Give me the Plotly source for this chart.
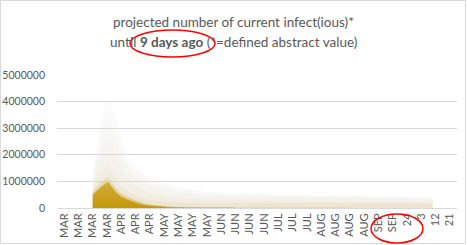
import plotly.graph_objects as go

# ---- data ----
tick_labels = ["MAR", "MAR", "MAR", "MAR", "APR", "APR", "APR", "MAY", "MAY", "MAY", "MAY",
               "JUN", "JUN", "JUN", "JUN", "JUL", "JUL", "JUL", "AUG", "AUG", "AUG", "AUG",
               "SEP", "SEP", "24", "3", "12", "21"]

# x positions (in tick-label units)
x_pos = [2.0, 2.3, 2.6, 2.9, 3.1, 3.4, 3.7, 4.0, 4.5, 5.0, 5.5, 6.0, 7.0, 8.0, 9.0,
         10.0, 12.0, 14.0, 16.0, 18.0, 20.0, 22.0, 24.0, 25.8]

# projected values (band envelopes)
outer_band = [1300000, 2300000, 3300000, 3900000, 4100000, 3800000, 3300000, 2600000, 1900000,
              1500000, 1300000, 1150000, 900000, 750000, 680000, 600000, 550000, 520000,
              500000, 480000, 470000, 450000, 430000, 400000]
upper_band = [1100000, 1900000, 2700000, 3200000, 3350000, 3050000, 2600000, 2050000, 1500000,
              1200000, 1000000, 880000, 700000, 600000, 540000, 490000, 450000, 430000,
              415000, 400000, 390000, 375000, 360000, 340000]
mid_band = [900000, 1500000, 2100000, 2500000, 2600000, 2300000, 1900000, 1500000, 1100000,
            850000, 700000, 600000, 450000, 380000, 340000, 320000, 300000, 290000,
            280000, 270000, 260000, 250000, 240000, 220000]
inner_band = [700000, 1000000, 1350000, 1550000, 1600000, 1350000, 1050000, 800000, 600000,
              450000, 350000, 300000, 240000, 210000, 200000, 200000, 195000, 190000,
              188000, 185000, 182000, 180000, 175000, 170000]
core_halo = [580000, 780000, 980000, 1120000, 1150000, 920000, 700000, 540000, 400000,
             280000, 190000, 130000, 70000, 40000, 25000, 15000, 10000, 8000,
             6000, 5000, 4000, 3000, 2000, 1000]
core = [500000, 650000, 800000, 930000, 970000, 750000, 550000, 420000, 300000,
        200000, 120000, 80000, 40000, 20000, 10000, 5000, 2000, 1000,
        0, 0, 0, 0, 0, 0]

y_ticks = [0, 1000000, 2000000, 3000000, 4000000, 5000000]

# ---- layout geometry ----
W, H = 467, 245
L, R, T, B = 57, 10, 75, 37
PW, PH = W - L - R, H - T - B


def px(xp):
    return (xp - L) / PW


def py(yp):
    return 1 - (yp - T) / PH


FONT = "Lato, 'Open Sans', sans-serif"
GREY = "#595959"

fig = go.Figure()

layers = [
    (outer_band, [[0, "rgba(215,210,195,0.18)"], [1, "rgba(225,225,225,0.12)"]]),
    (upper_band, [[0, "rgba(220,210,185,0.14)"], [1, "rgba(230,228,222,0.10)"]]),
    (mid_band, [[0, "rgba(225,208,160,0.16)"], [1, "rgba(232,225,205,0.10)"]]),
    (inner_band, [[0, "rgba(225,200,140,0.22)"], [1, "rgba(230,215,180,0.14)"]]),
]
for vals, cs in layers:
    fig.add_trace(go.Scatter(
        x=x_pos, y=vals, mode="lines", fill="tozeroy",
        fillgradient=dict(type="vertical", colorscale=cs, start=0, stop=max(vals)),
        line=dict(width=0, shape="spline", smoothing=0.6), hoverinfo="skip",
        showlegend=False))

fig.add_trace(go.Scatter(
    x=x_pos, y=core_halo, mode="lines", fill="tozeroy",
    fillgradient=dict(type="vertical",
                      colorscale=[[0, "rgba(200,158,18,0.55)"], [1, "rgba(215,185,90,0.2)"]],
                      start=0, stop=max(core_halo)),
    line=dict(width=0, shape="spline", smoothing=0.6), hoverinfo="skip", showlegend=False))
fig.add_trace(go.Scatter(
    x=x_pos, y=core, mode="lines", fill="tozeroy",
    fillgradient=dict(type="vertical",
                      colorscale=[[0, "rgba(195,152,5,0.97)"], [1, "rgba(205,165,40,0.85)"]],
                      start=0, stop=max(core)),
    line=dict(width=0, shape="spline", smoothing=0.6), hoverinfo="skip", showlegend=False))

fig.update_layout(
    width=W, height=H,
    margin=dict(l=L, r=R, t=T, b=B, autoexpand=False),
    paper_bgcolor="white", plot_bgcolor="white",
    font=dict(family=FONT, color=GREY, size=10),
    xaxis=dict(
        range=[-0.5, len(tick_labels) - 0.5], automargin=False,
        tickmode="array", tickvals=list(range(len(tick_labels))), ticktext=tick_labels,
        tickangle=-90, showgrid=False, zeroline=False,
        showline=True, linecolor="#d9d9d9", linewidth=1, ticks="",
        tickfont=dict(size=11, color=GREY),
    ),
    yaxis=dict(
        range=[0, 5000000], tickmode="array", tickvals=y_ticks, automargin=False,
        ticktext=[str(v) for v in y_ticks],
        showgrid=True, gridcolor="#d9d9d9", gridwidth=1, zeroline=False,
        ticks="", ticklabelstandoff=11, tickfont=dict(size=10.5, color=GREY),
    ),
)

fig.add_annotation(x=px(233), y=py(22), xref="paper", yref="paper",
                   text="projected number of current infect(ious)*", showarrow=False,
                   font=dict(size=13.5, color=GREY, family=FONT), xanchor="center", yanchor="middle")
fig.add_annotation(x=px(233), y=py(42), xref="paper", yref="paper",
                   text="until <b>9 days ago</b> (*=defined abstract value)", showarrow=False,
                   font=dict(size=13.5, color=GREY, family=FONT), xanchor="center", yanchor="middle")

# chart border
fig.add_shape(type="rect", xref="paper", yref="paper",
              x0=px(0.5), x1=px(465.5), y0=py(243.5), y1=py(0.5),
              line=dict(color="#d9d9d9", width=1), layer="below")
# red ellipses
fig.add_shape(type="circle", xref="paper", yref="paper",
              x0=px(130), x1=px(215), y0=py(57), y1=py(30),
              line=dict(color="red", width=1.5))
fig.add_shape(type="circle", xref="paper", yref="paper",
              x0=px(371), x1=px(423), y0=py(243), y1=py(214),
              line=dict(color="red", width=1.5))

fig.write_html("out.html")
